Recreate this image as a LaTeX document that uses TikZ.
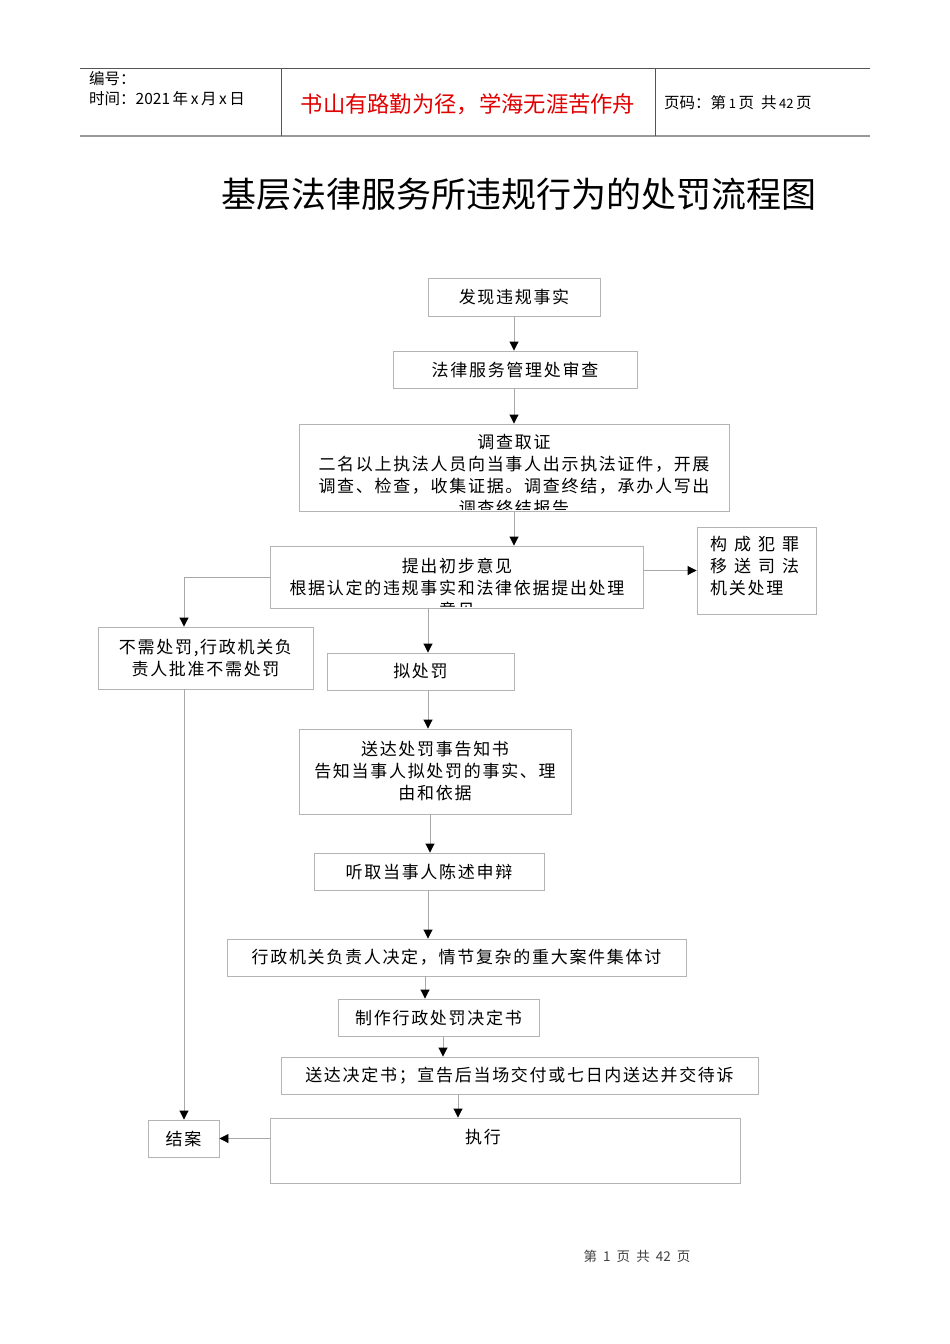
\documentclass[tikz,border=0pt]{standalone}
\usepackage{fontspec}
\setmainfont{Noto Sans CJK SC}
\newfontfamily\boxfont[LetterSpace=10]{Noto Sans CJK SC}
\usetikzlibrary{arrows.meta}
\definecolor{boxgray}{HTML}{B4B4B4}
\definecolor{linegray}{HTML}{A8A8A8}
\definecolor{hdrred}{HTML}{E00000}
\definecolor{hdrline}{HTML}{555555}
\tikzset{
  box/.style={draw=boxgray, line width=0.9pt, inner sep=0pt, font=\boxfont\fontsize{17}{22}\selectfont, align=center},
  boxtext/.style={inner sep=0pt, font=\boxfont\fontsize{17}{22}\selectfont, align=center},
  arr/.style={draw=linegray, line width=0.9pt, -{Triangle[length=9pt,width=9pt,color=black]}},
  hdr/.style={inner sep=0pt, anchor=west, font=\fontsize{15.5}{18}\selectfont}
}
\begin{document}
\begin{tikzpicture}[x=1pt,y=-1pt]
\useasboundingbox (0,0) rectangle (950,1344);
% header
\draw[hdrline, line width=1pt] (80,68) -- (870,68);
\draw[gray!80, line width=2pt] (80,136) -- (870,136);
\draw[hdrline, line width=1pt] (281,68) -- (281,136);
\draw[hdrline, line width=1pt] (655,68) -- (655,136);
\node[hdr] (h1) at (89,79) {编号：};
\node[hdr] (h2) at (89,99) {时间：2021\,年\,x\,月\,x\,日};
\node[inner sep=0pt, text=hdrred, font=\fontsize{22.3}{26}\selectfont] (h3) at (468,104) {书山有路勤为径，学海无涯苦作舟};
\node[hdr] (h4) at (664,103) {页码：第\,{\fontsize{13}{14}\selectfont 1}\,页\ \ 共\,{\fontsize{13}{14}\selectfont 42}\,页};
% title
\node[inner sep=0pt, font=\fontsize{35}{40}\selectfont] (title) at (519,194) {基层法律服务所违规行为的处罚流程图};
% boxes
\node[box, minimum width=172pt, minimum height=38pt] (n1) at (514,297) {发现违规事实};
\node[box, minimum width=244pt, minimum height=37pt] (n2) at (515,369.5) {法律服务管理处审查};
\node[box, minimum width=430pt, minimum height=87pt] (n3) at (514,467.5) {};
\begin{scope}
\clip ([yshift=2pt]n3.south west) rectangle (n3.north east);
\node[boxtext] (t3) at (514,475.5) {调查取证\\二名以上执法人员向当事人出示执法证件，开展\\调查、检查，收集证据。调查终结，承办人写出\\调查终结报告};
\end{scope}
\node[box, minimum width=373pt, minimum height=62pt] (n4) at (456.5,577) {};
\begin{scope}
\clip ([yshift=2pt]n4.south west) rectangle (n4.north east);
\node[boxtext] (t4) at (457,587.5) {提出初步意见\\根据认定的违规事实和法律依据提出处理\\意见};
\end{scope}
\node[box, minimum width=119pt, minimum height=87pt] (n5) at (756.5,570.5) {};
\node[boxtext, anchor=north west, align=left] (t5) at (710,536) {\makebox[89pt][s]{构\hfil 成\hfil 犯\hfil 罪}\\\makebox[89pt][s]{移\hfil 送\hfil 司\hfil 法}\\机关处理};
\node[box, minimum width=215pt, minimum height=62pt] (n6) at (205.5,658) {不需处罚,行政机关负\\责人批准不需处罚};
\node[box, minimum width=187pt, minimum height=37pt] (n7) at (420.5,671.5) {拟处罚};
\node[box, minimum width=272pt, minimum height=85pt] (n8) at (435,771.5) {送达处罚事告知书\\告知当事人拟处罚的事实、理\\由和依据};
\node[box, minimum width=230pt, minimum height=37pt] (n9) at (429,871.5) {听取当事人陈述申辩};
\node[box, minimum width=459pt, minimum height=37pt] (n10) at (456.5,957.5) {行政机关负责人决定，情节复杂的重大案件集体讨};
\node[box, minimum width=201pt, minimum height=37pt] (n11) at (438.5,1017.5) {制作行政处罚决定书};
\node[box, minimum width=477pt, minimum height=37pt] (n12) at (519.5,1075.5) {送达决定书；宣告后当场交付或七日内送达并交待诉};
\node[box, minimum width=71pt, minimum height=37pt] (n13) at (183.5,1138.5) {结案};
\node[box, minimum width=470pt, minimum height=65pt] (n14) at (505,1150.5) {};
\node[boxtext] (t14) at (483,1137) {执行};
% connector x positions
\coordinate (x1) at (514,0);
\coordinate (x2) at (428,0);
\coordinate (x3) at (430,0);
\coordinate (x4) at (425,0);
\coordinate (x5) at (443,0);
\coordinate (x6) at (458,0);
\coordinate (x7) at (184,0);
% connectors
\draw[arr] (n1.south -| x1) -- (n2.north -| x1);
\draw[arr] (n2.south -| x1) -- (n3.north -| x1);
\draw[arr] (n3.south -| x1) -- (n4.north -| x1);
\draw[arr] (n5.west -| n4.east) -- (n5.west);
\draw[arr] (n4.west) -- (n4.west -| x7) -- (n6.north -| x7);
\draw[arr] (n4.south -| x2) -- (n7.north -| x2);
\draw[arr] (n7.south -| x2) -- (n8.north -| x2);
\draw[arr] (n8.south -| x3) -- (n9.north -| x3);
\draw[arr] (n9.south -| x2) -- (n10.north -| x2);
\draw[arr] (n10.south -| x4) -- (n11.north -| x4);
\draw[arr] (n11.south -| x5) -- (n12.north -| x5);
\draw[arr] (n12.south -| x6) -- (n14.north -| x6);
\draw[arr] (n6.south -| x7) -- (n13.north -| x7);
\draw[arr] (n14.west |- n13.east) -- (n13.east);
% footer
\node[inner sep=0pt, text=black!75, font=\fontsize{13.5}{16}\selectfont] (foot) at (637,1256) {第\ \ 1\ \ 页\ \ 共\ \ 42\ \ 页};
\end{tikzpicture}
\end{document}
